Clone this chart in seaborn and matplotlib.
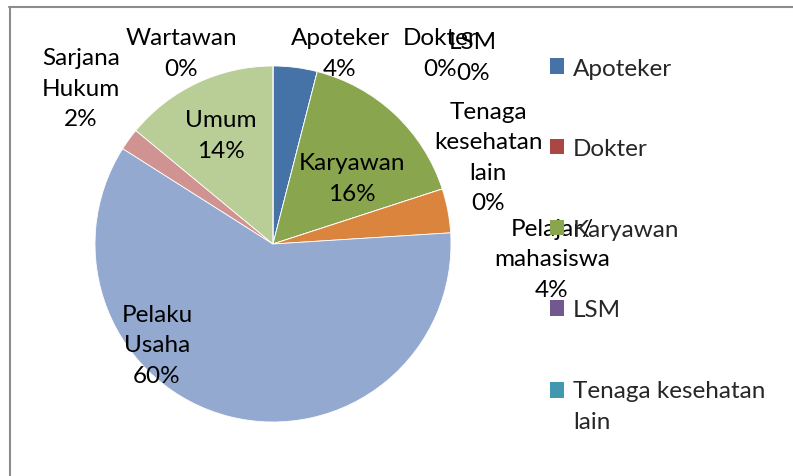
import matplotlib
matplotlib.use("Agg")
import matplotlib.pyplot as plt
import seaborn as sns
from matplotlib.patches import Rectangle
from matplotlib.legend_handler import HandlerPatch

categories = ["Apoteker", "Dokter", "Karyawan", "LSM", "Tenaga kesehatan lain",
              "Pelajar/ mahasiswa", "Pelaku Usaha", "Sarjana Hukum", "Umum", "Wartawan"]
values = [4, 0, 16, 0, 0, 4, 60, 2, 14, 0]
colors = ["#4572A7", "#AA4643", "#89A54E", "#71588F", "#4198AF",
          "#DB843D", "#93A9CF", "#D19392", "#B9CD96", "#A99BBD"]
label_texts = ["Apoteker\n4%", "Dokter\n0%", "Karyawan\n16%", "LSM\n0%",
               "Tenaga\nkesehatan\nlain\n0%", "Pelajar/\nmahasiswa\n4%",
               "Pelaku\nUsaha\n60%", "Sarjana\nHukum\n2%", "Umum\n14%", "Wartawan\n0%"]
legend_labels = ["Apoteker", "Dokter", "Karyawan", "LSM", "Tenaga kesehatan\nlain"]

sns.set_theme(style="white")
plt.rcParams['font.family'] = ['Lato', 'DejaVu Sans']

W, H = 793, 477
fig = plt.figure(figsize=(W / 100, H / 100), dpi=100)
ax = fig.add_axes([0, 0, 1, 1])

cx, cy, r = 273, 245, 178
# y axis is inverted below: startangle=-90 points up, counterclock in data = clockwise on screen
wedges, _ = ax.pie(values, colors=colors, startangle=-90, counterclock=True,
                   center=(cx, cy), radius=r, frame=True,
                   wedgeprops=dict(linewidth=0.6, edgecolor="white"))
ax.set_xlim(0, W)
ax.set_ylim(H, 0)
ax.set_aspect("equal")
ax.axis("off")

label_pos = [(340, 54), (440, 54), (352, 179), (473, 58), (488, 158),
             (552, 260), (157, 346), (81, 89), (221, 136), (181, 54)]
fs = 17.5
for txt, (x, y) in zip(label_texts, label_pos):
    ax.text(x, y, txt, ha="center", va="center", fontsize=fs,
            color="black", linespacing=1.55)

# frame lines (cropped chart border)
ax.plot([9, W], [8, 8], color="#8c8c8c", lw=1.5, clip_on=False)
ax.plot([10, 10], [8, H], color="#8c8c8c", lw=1.5, clip_on=False)


def shifted_square(legend, orig_handle, xdescent, ydescent, width, height, fontsize):
    return Rectangle((-xdescent, -ydescent + 11.5), width, height)


handler_map = {wedges[4]: HandlerPatch(patch_func=shifted_square)}
leg = ax.legend(wedges[:5], legend_labels, loc="upper left",
                bbox_to_anchor=(540 / W, 1 - 49 / H), frameon=False,
                fontsize=fs, handlelength=0.6, handleheight=0.6,
                handletextpad=0.35, labelspacing=2.45, borderaxespad=0,
                handler_map=handler_map)
for h in leg.legend_handles:
    h.set_edgecolor("none")
for t in leg.get_texts():
    t.set_linespacing(1.6)

fig.savefig("out.png", dpi=100, facecolor="white")
